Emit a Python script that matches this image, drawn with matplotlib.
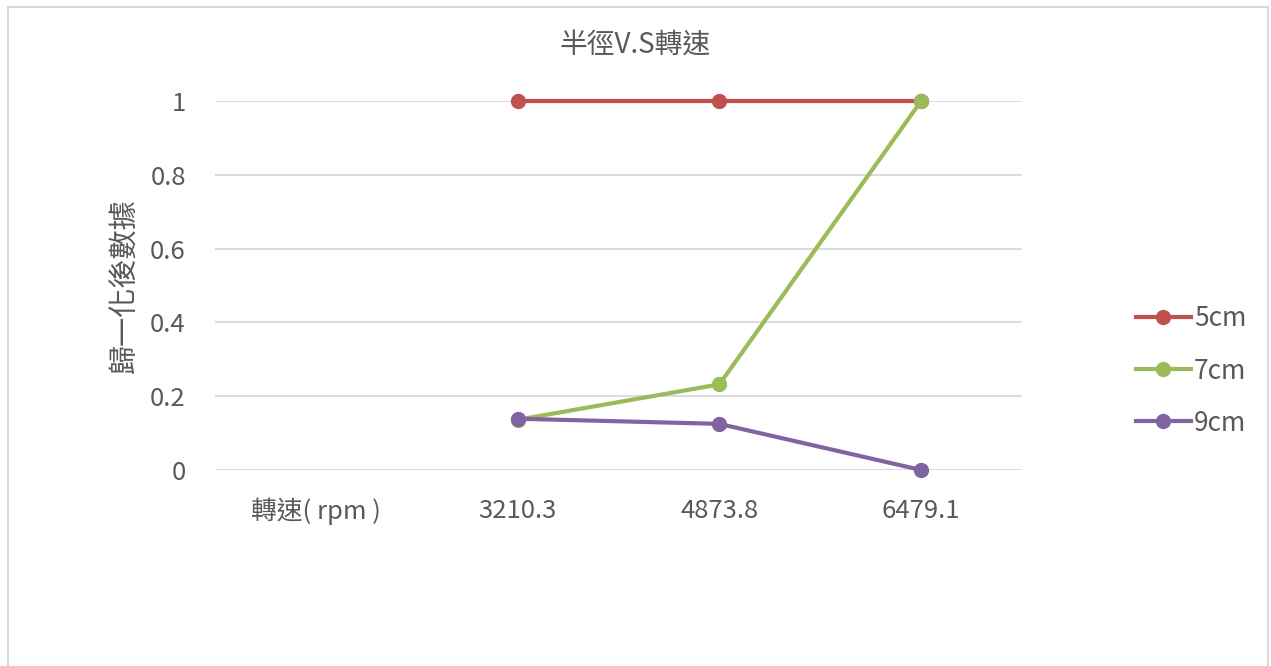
import numpy as np
import matplotlib.pyplot as plt
from matplotlib.patches import Rectangle

plt.rcParams['font.family'] = ['Noto Sans CJK TC', 'DejaVu Sans']

# Rotation speed categories (first slot is the axis caption, no data)
speeds = ['轉速( rpm )', '3210.3', '4873.8', '6479.1']

# Normalised results per radius
r5 = [np.nan, 1.0, 1.0, 1.0]
r7 = [np.nan, 0.136, 0.232, 1.0]
r9 = [np.nan, 0.139, 0.125, 0.0]

series = [('5cm', r5, '#C0504D'), ('7cm', r7, '#9BBB59'), ('9cm', r9, '#8064A2')]
grey = '#595959'

fig = plt.figure(figsize=(12.71, 6.66), dpi=100)
ax = fig.add_axes([215 / 1271, 1 - 470 / 666, 807 / 1271, 369 / 666])

x = np.arange(len(speeds))
for name, vals, col in series:
    ax.plot(x, vals, color=col, lw=3, marker='o', ms=10, label=name,
            clip_on=False, zorder=3)

ax.set_xlim(-0.5, len(speeds) - 0.5)
ax.set_ylim(0, 1)
ax.set_yticks(np.arange(0, 1.01, 0.2))
ax.set_yticklabels(['0', '0.2', '0.4', '0.6', '0.8', '1'])
ax.set_xticks(x)
ax.set_xticklabels(speeds)
ax.tick_params(length=0, labelsize=18.5, labelcolor=grey)
ax.tick_params(axis='x', pad=20)
ax.tick_params(axis='y', pad=21)
ax.grid(axis='y', color='#D9D9D9', lw=1.3)
ax.set_axisbelow(True)
for s in ax.spines.values():
    s.set_visible(False)

fig.text(125 / 1271, 1 - 286 / 666, '歸一化後數據', rotation=90, ha='center',
         va='center', fontsize=21, color=grey)
fig.text(0.5, 1 - 45 / 666, '半徑V.S轉速', ha='center', va='center',
         fontsize=20, color=grey)

ax.legend(loc='center left', bbox_to_anchor=(0.875, 1 - 371 / 666),
          bbox_transform=fig.transFigure, frameon=False, fontsize=19,
          labelcolor=grey, handlelength=2.08, handletextpad=0.12,
          labelspacing=0.95)

# chart border
fig.patches.append(Rectangle((8 / 1271, -0.05), 1260 / 1271, 1.05 - 7 / 666,
                             transform=fig.transFigure, fill=False,
                             ec='#D9D9D9', lw=1.5))

fig.savefig('out.png', dpi=100)
